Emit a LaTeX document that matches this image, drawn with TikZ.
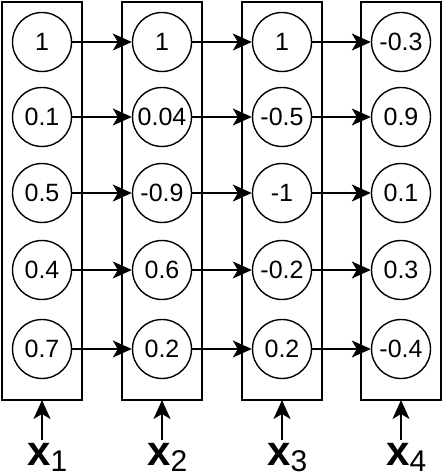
\documentclass[tikz,border=0pt]{standalone}
\usepackage{fontspec}
\setmainfont{Liberation Sans}
\usetikzlibrary{arrows.meta}
\begin{document}
\begin{tikzpicture}[x=1pt,y=-1pt,
  layerbox/.style={draw,line width=1.8pt},
  unit/.style={draw,circle,line width=1.4pt,minimum size=59pt,inner sep=0pt,font=\fontsize{25}{25}\selectfont},
  conn/.style={line width=1.5pt,-{Stealth[length=19pt,width=17pt,inset=5pt]}},
  lab/.style={anchor=base west,inner sep=0pt}]
\useasboundingbox (0,0) rectangle (442,476);
\def\rowy{{42,117,193,270,349}}
% columns
\foreach \c/\cx in {1/42,2/162,3/282,4/401}{
  \draw[layerbox] (\cx-40,2) rectangle (\cx+40,400);
  \coordinate (bot\c) at (\cx,400);
  \coordinate (tail\c) at (\cx,440);
  \draw[conn] (tail\c) -- (bot\c);
  \node[lab] (x\c) at (\cx-15,465) {\fontsize{42}{42}\selectfont\bfseries x\raisebox{-6pt}{\fontsize{30}{30}\selectfont\mdseries \c}};
}
% values
\foreach \r/\a/\b/\cc/\d [count=\i from 0] in {1/1/1/1/-0.3, 2/0.1/0.04/-0.5/0.9, 3/0.5/-0.9/-1/0.1, 4/0.4/0.6/-0.2/0.3, 5/0.7/0.2/0.2/-0.4}{
  \pgfmathsetmacro\yy{\rowy[\i]}
  \node[unit] (n1-\r) at (42,\yy) {\a};
  \node[unit] (n2-\r) at (162,\yy) {\b};
  \node[unit] (n3-\r) at (282,\yy) {\cc};
  \node[unit] (n4-\r) at (401,\yy) {\d};
  \draw[conn] (n1-\r) -- (n2-\r);
  \draw[conn] (n2-\r) -- (n3-\r);
  \draw[conn] (n3-\r) -- (n4-\r);
}
\end{tikzpicture}
\end{document}
